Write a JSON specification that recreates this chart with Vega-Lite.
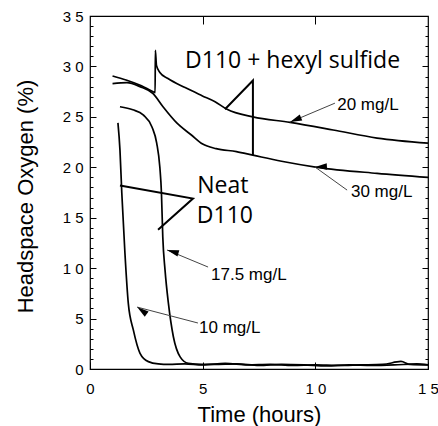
{
  "$schema": "https://vega.github.io/schema/vega-lite/v6.json",
  "width": 338,
  "height": 353,
  "autosize": {"type": "none"},
  "padding": {"left": 90, "top": 16, "right": 10, "bottom": 57},
  "background": "white",
  "config": {
    "view": {"stroke": "black", "strokeWidth": 1.2},
    "axis": {"labelFont": "Liberation Sans", "titleFont": "Liberation Sans", "labelColor": "black", "titleColor": "black", "tickColor": "black", "tickWidth": 1, "ticks": true, "zindex": 2, "titleFontWeight": "normal", "grid": false, "domain": false, "labelFlush": false, "labelOverlap": false}
  },
  "datasets": {
    "curves": [
      {"series": "20", "hours": 1.0, "oxygen": 29.05},
      {"series": "20", "hours": 1.6, "oxygen": 28.65},
      {"series": "20", "hours": 2.2, "oxygen": 28.15},
      {"series": "20", "hours": 2.8, "oxygen": 27.5},
      {"series": "20", "hours": 2.89, "oxygen": 27.4},
      {"series": "20", "hours": 2.9, "oxygen": 31.6},
      {"series": "20", "hours": 2.95, "oxygen": 30.1},
      {"series": "20", "hours": 3.1, "oxygen": 29.4},
      {"series": "20", "hours": 3.46, "oxygen": 28.8},
      {"series": "20", "hours": 4.22, "oxygen": 27.9},
      {"series": "20", "hours": 4.97, "oxygen": 27.1},
      {"series": "20", "hours": 5.55, "oxygen": 26.5},
      {"series": "20", "hours": 6.08, "oxygen": 25.75},
      {"series": "20", "hours": 7.23, "oxygen": 25.0},
      {"series": "20", "hours": 8.88, "oxygen": 24.45},
      {"series": "20", "hours": 10.79, "oxygen": 23.7},
      {"series": "20", "hours": 12.74, "oxygen": 22.9},
      {"series": "20", "hours": 15.0, "oxygen": 22.4},
      {"series": "30", "hours": 1.0, "oxygen": 28.3},
      {"series": "30", "hours": 1.64, "oxygen": 28.4},
      {"series": "30", "hours": 2.22, "oxygen": 28.0},
      {"series": "30", "hours": 2.8, "oxygen": 27.3},
      {"series": "30", "hours": 3.24, "oxygen": 26.0},
      {"series": "30", "hours": 3.85, "oxygen": 24.4},
      {"series": "30", "hours": 4.5, "oxygen": 23.2},
      {"series": "30", "hours": 5.0, "oxygen": 22.3},
      {"series": "30", "hours": 5.6, "oxygen": 21.85},
      {"series": "30", "hours": 6.5, "oxygen": 21.55},
      {"series": "30", "hours": 7.23, "oxygen": 21.2},
      {"series": "30", "hours": 8.5, "oxygen": 20.6},
      {"series": "30", "hours": 10.08, "oxygen": 20.0},
      {"series": "30", "hours": 12.74, "oxygen": 19.4},
      {"series": "30", "hours": 15.0, "oxygen": 19.0},
      {"series": "17.5", "hours": 1.33, "oxygen": 26.0},
      {"series": "17.5", "hours": 1.9, "oxygen": 25.7},
      {"series": "17.5", "hours": 2.36, "oxygen": 25.2},
      {"series": "17.5", "hours": 2.75, "oxygen": 24.0},
      {"series": "17.5", "hours": 2.96, "oxygen": 22.4},
      {"series": "17.5", "hours": 3.1, "oxygen": 20.0},
      {"series": "17.5", "hours": 3.17, "oxygen": 17.5},
      {"series": "17.5", "hours": 3.23, "oxygen": 13.1},
      {"series": "17.5", "hours": 3.33, "oxygen": 9.8},
      {"series": "17.5", "hours": 3.48, "oxygen": 6.5},
      {"series": "17.5", "hours": 3.7, "oxygen": 3.2},
      {"series": "17.5", "hours": 4.0, "oxygen": 1.2},
      {"series": "17.5", "hours": 4.36, "oxygen": 0.56},
      {"series": "17.5", "hours": 4.96, "oxygen": 0.45},
      {"series": "17.5", "hours": 5.5, "oxygen": 0.45},
      {"series": "17.5", "hours": 6.5, "oxygen": 0.5},
      {"series": "17.5", "hours": 7.5, "oxygen": 0.35},
      {"series": "17.5", "hours": 8.5, "oxygen": 0.45},
      {"series": "17.5", "hours": 9.5, "oxygen": 0.4},
      {"series": "17.5", "hours": 10.5, "oxygen": 0.3},
      {"series": "17.5", "hours": 11.5, "oxygen": 0.4},
      {"series": "17.5", "hours": 12.5, "oxygen": 0.35},
      {"series": "17.5", "hours": 13.5, "oxygen": 0.4},
      {"series": "17.5", "hours": 14.5, "oxygen": 0.5},
      {"series": "17.5", "hours": 15.0, "oxygen": 0.4},
      {"series": "10", "hours": 1.24, "oxygen": 24.4},
      {"series": "10", "hours": 1.33, "oxygen": 21.7},
      {"series": "10", "hours": 1.41, "oxygen": 17.5},
      {"series": "10", "hours": 1.55, "oxygen": 11.5},
      {"series": "10", "hours": 1.7, "oxygen": 6.5},
      {"series": "10", "hours": 1.92, "oxygen": 3.9},
      {"series": "10", "hours": 2.22, "oxygen": 1.56},
      {"series": "10", "hours": 2.59, "oxygen": 0.73},
      {"series": "10", "hours": 3.03, "oxygen": 0.5},
      {"series": "10", "hours": 3.5, "oxygen": 0.45},
      {"series": "10", "hours": 4.2, "oxygen": 0.5},
      {"series": "10", "hours": 5.0, "oxygen": 0.4},
      {"series": "10", "hours": 6.0, "oxygen": 0.55},
      {"series": "10", "hours": 7.0, "oxygen": 0.4},
      {"series": "10", "hours": 8.0, "oxygen": 0.45},
      {"series": "10", "hours": 9.0, "oxygen": 0.35},
      {"series": "10", "hours": 10.0, "oxygen": 0.4},
      {"series": "10", "hours": 11.0, "oxygen": 0.35},
      {"series": "10", "hours": 12.0, "oxygen": 0.4},
      {"series": "10", "hours": 13.0, "oxygen": 0.45},
      {"series": "10", "hours": 13.8, "oxygen": 0.75},
      {"series": "10", "hours": 14.2, "oxygen": 0.45},
      {"series": "10", "hours": 15.0, "oxygen": 0.4}
    ],
    "pointers": [
      {"grp": "hex", "i": 0, "hours": 5.99, "oxygen": 25.75},
      {"grp": "hex", "i": 1, "hours": 7.23, "oxygen": 28.6},
      {"grp": "hex", "i": 2, "hours": 7.23, "oxygen": 21.2},
      {"grp": "neat", "i": 0, "hours": 1.33, "oxygen": 18.2},
      {"grp": "neat", "i": 1, "hours": 4.57, "oxygen": 16.9},
      {"grp": "neat", "i": 2, "hours": 3.02, "oxygen": 13.8}
    ],
    "arrows": [
      {"id": "20", "hours": 10.87, "oxygen": 26.36},
      {"id": "20", "hours": 8.88, "oxygen": 24.48},
      {"id": "30", "hours": 11.41, "oxygen": 17.74},
      {"id": "30", "hours": 9.99, "oxygen": 20.02},
      {"id": "17.5", "hours": 5.24, "oxygen": 10.11},
      {"id": "17.5", "hours": 3.42, "oxygen": 11.8},
      {"id": "10", "hours": 4.79, "oxygen": 4.56},
      {"id": "10", "hours": 2.09, "oxygen": 6.14}
    ],
    "heads": [
      {"id": "20", "hours": 8.88, "oxygen": 24.48},
      {"id": "30", "hours": 9.99, "oxygen": 20.02},
      {"id": "17.5", "hours": 3.42, "oxygen": 11.8},
      {"id": "10", "hours": 2.09, "oxygen": 6.14}
    ],
    "labels": [
      {"kind": "big", "hours": 4.22, "oxygen": 29.83, "text": "D110 + hexyl sulfide"},
      {"kind": "big", "hours": 4.76, "oxygen": 17.44, "text": "Neat"},
      {"kind": "big", "hours": 4.74, "oxygen": 14.47, "text": "D110"},
      {"kind": "small", "hours": 10.97, "oxygen": 25.67, "text": "20 mg/L"},
      {"kind": "small", "hours": 11.58, "oxygen": 17.05, "text": "30 mg/L"},
      {"kind": "small", "hours": 5.37, "oxygen": 8.82, "text": "17.5 mg/L"},
      {"kind": "small", "hours": 4.84, "oxygen": 3.57, "text": "10 mg/L"}
    ]
  },
  "layer": [
    {
      "data": {"name": "curves"},
      "mark": {"type": "line", "color": "black", "strokeWidth": 1.7, "interpolate": "monotone"},
      "encoding": {
        "x": {"field": "hours", "type": "quantitative", "scale": {"domain": [0, 15], "nice": false},
          "axis": {"orient": "bottom", "values": [0, 5, 10, 15], "offset": -7, "tickSize": 7, "labelFontSize": 15, "labelPadding": 12, "labelExpr": "join(split(datum.label, ''), ' ')",
            "title": "Time (hours)", "titleFontSize": 22, "titleX": 169, "titleY": 59, "titleBaseline": "alphabetic", "titleAlign": "center"}},
        "y": {"field": "oxygen", "type": "quantitative", "scale": {"domain": [0, 35], "nice": false},
          "axis": {"orient": "left", "values": [0, 5, 10, 15, 20, 25, 30, 35], "offset": -6, "tickSize": 6,
            "labelFontSize": 15, "labelPadding": 7,
            "labelExpr": "join(split(datum.label, ''), ' ')",
            "title": "Headspace Oxygen (%)", "titleFontSize": 22, "titleX": -64, "titleY": 180, "titleBaseline": "alphabetic", "titleAlign": "center", "titleAngle": -90}},
        "detail": {"field": "series"}
      }
    },
    {
      "data": {"name": "pointers"},
      "mark": {"type": "line", "color": "black", "strokeWidth": 2},
      "encoding": {
        "x": {"field": "hours", "type": "quantitative", "scale": {"domain": [0, 15], "nice": false},
          "axis": {"orient": "top", "values": [5, 10], "labels": false, "offset": -8, "tickSize": 8, "title": null}},
        "y": {"field": "oxygen", "type": "quantitative", "scale": {"domain": [0, 35], "nice": false},
          "axis": {"orient": "right", "values": [5, 10, 15, 20, 25, 30], "labels": false, "title": null, "offset": -6, "tickSize": 6}},
        "detail": {"field": "grp"},
        "order": {"field": "i"}
      }
    },
    {
      "data": {"name": "arrows"},
      "mark": {"type": "line", "color": "#444444", "strokeWidth": 1},
      "encoding": {
        "x": {"field": "hours", "type": "quantitative", "scale": {"domain": [0, 15], "nice": false}, "axis": null},
        "y": {"field": "oxygen", "type": "quantitative", "scale": {"domain": [0, 35], "nice": false},
          "axis": {"orient": "left", "values": [1,2,3,4,6,7,8,9,11,12,13,14,16,17,18,19,21,22,23,24,26,27,28,29,31,32,33,34], "labels": false, "title": null, "offset": -3, "tickSize": 3}},
        "detail": {"field": "id"}
      }
    },
    {
      "data": {"name": "heads"},
      "mark": {"type": "point", "shape": "M0,0L0.55,2L-0.55,2Z", "filled": true, "color": "black", "opacity": 1, "size": 140},
      "encoding": {
        "x": {"field": "hours", "type": "quantitative", "scale": {"domain": [0, 15], "nice": false}, "axis": null},
        "y": {"field": "oxygen", "type": "quantitative", "scale": {"domain": [0, 35], "nice": false},
          "axis": {"orient": "right", "values": [1,2,3,4,6,7,8,9,11,12,13,14,16,17,18,19,21,22,23,24,26,27,28,29,31,32,33,34], "labels": false, "title": null, "offset": -3, "tickSize": 3}},
        "angle": {"field": "id", "type": "nominal", "legend": null, "scale": {"domain": ["20", "30", "17.5", "10"], "range": [247, 306, 292, 285]}}
      }
    },
    {
      "data": {"name": "labels"},
      "transform": [{"filter": "datum.kind === 'big'"}],
      "mark": {"type": "text", "font": "Open Sans", "fontSize": 23, "align": "left", "baseline": "alphabetic", "color": "black"},
      "encoding": {
        "x": {"field": "hours", "type": "quantitative", "scale": {"domain": [0, 15], "nice": false}, "axis": null},
        "y": {"field": "oxygen", "type": "quantitative", "scale": {"domain": [0, 35], "nice": false}, "axis": null},
        "text": {"field": "text"}
      }
    },
    {
      "data": {"name": "labels"},
      "transform": [{"filter": "datum.kind === 'small'"}],
      "mark": {"type": "text", "font": "Liberation Sans", "fontSize": 17, "align": "left", "baseline": "alphabetic", "color": "black"},
      "encoding": {
        "x": {"field": "hours", "type": "quantitative", "scale": {"domain": [0, 15], "nice": false}, "axis": null},
        "y": {"field": "oxygen", "type": "quantitative", "scale": {"domain": [0, 35], "nice": false}, "axis": null},
        "text": {"field": "text"}
      }
    }
  ],
  "resolve": {"axis": {"x": "independent", "y": "independent"}}
}
